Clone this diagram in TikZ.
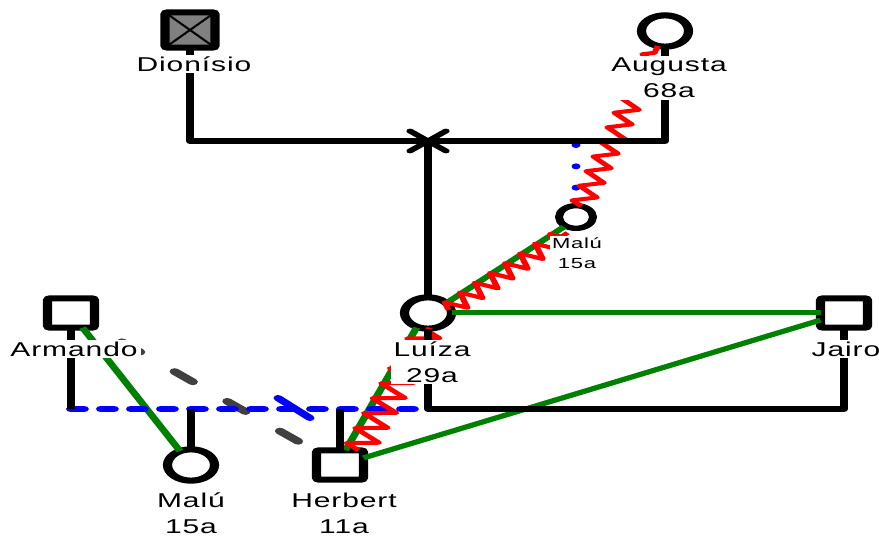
\documentclass[tikz,border=0pt]{standalone}
\usepackage{fontspec}
\setmainfont{Liberation Sans}[LetterSpace=3]
\usetikzlibrary{decorations.pathmorphing,calc}
\definecolor{closegreen}{HTML}{008000}
\definecolor{conflictred}{HTML}{FF0000}
\definecolor{relblue}{HTML}{0000FF}
\definecolor{distgray}{HTML}{404040}
\definecolor{deadgray}{HTML}{808080}
\tikzset{
  person/.style={draw=black, fill=white, line width=4.6pt, inner sep=0pt, outer sep=0pt},
  female/.style={person, circle, minimum size=23.5pt},
  smallfemale/.style={person, circle, minimum size=17pt, line width=4pt},
  male/.style={person, rectangle, rounded corners=1.5pt, minimum width=23.5pt, minimum height=22pt},
  lbl/.style={fill=white, inner sep=1.5pt, align=center, font=\fontsize{15}{19.5}\selectfont},
  slbl/.style={fill=white, inner sep=1pt, align=center, font=\fontsize{11}{15}\selectfont},
  famline/.style={draw=black, line width=4.2pt, line join=round},
  xmark/.style={draw=black, line width=3.6pt, line cap=round},
  closeline/.style={draw=closegreen, line width=3.75pt},
  conflictline/.style={draw=conflictred, line width=3pt, line join=round, decorate,
     decoration={zigzag, segment length=11pt, amplitude=5.5pt}},
  bluedash/.style={draw=relblue, line width=5pt, line cap=round, dash pattern=on 6.45pt off 8.55pt},
  sepmark/.style={draw=relblue, line width=4.5pt, line cap=round},
  fosterline/.style={draw=relblue, line width=4.5pt, line cap=round, dash pattern=on 0pt off 16pt},
  distline/.style={draw=distgray, line width=5pt, line cap=round, dash pattern=on 12pt off 22.5pt, dash phase=16.5pt}
}
\begin{document}
\begin{tikzpicture}[x=0.75pt,y=-0.75pt]
\fill[white] (0,0) rectangle (879,538);
\useasboundingbox (0,0) rectangle (879,538);
\begin{scope}[x=0.5pt, transform canvas={xscale=1.5}]
% persons
\node[male, fill=deadgray, minimum width=25pt, minimum height=26.5pt,
  path picture={\draw[line width=1.3pt] (path picture bounding box.north west) -- (path picture bounding box.south east)
     (path picture bounding box.north east) -- (path picture bounding box.south west);}] (D) at (190,30) {};
\node[female] (A) at (665,31) {};
\node[female] (L) at (428,313) {};
\node[male] (J) at (844,313) {};
\node[male] (Ar) at (71,313) {};
\node[female] (M) at (191,465) {};
\node[male] (H) at (340,465) {};
\node[smallfemale] (S) at (576,217) {};
% helper coordinates
\coordinate (dm) at (190,141);
\coordinate (xm) at (428,141);
\coordinate (sd) at (576,145);
\coordinate (ar1) at (71,409);
\coordinate (lj1) at (428,409);
\coordinate (mc) at (191,409);
\coordinate (hc) at (340,409);
\coordinate (sp1) at (278,398);
\coordinate (sp2) at (310,418);
% emotional relationship lines
\draw[closeline] (Ar) -- (M);
\draw[closeline] (L) -- (J);
\draw[closeline] (J) -- (H);
\draw[closeline, transform canvas={yshift=-1.5pt}] (L) -- (S);
\draw[closeline, transform canvas={xshift=-1.5pt}] (H) -- (L);
\draw[distline] (Ar) -- (H);
\draw[bluedash] (ar1) -- (lj1);
\draw[sepmark] (sp1) -- (sp2);
\draw[fosterline] (sd) -- (S);
\draw[conflictline, decoration={segment length=12pt, amplitude=7.5pt}, transform canvas={xshift=5pt}] (H) -- (L);
\draw[conflictline, decoration={segment length=10.5pt}, transform canvas={shift={(1.9pt,-5.9pt)}}] (L) -- (S);
\draw[conflictline, decoration={segment length=11.5pt}] (S) -- (A);
% family lines
\draw[famline] (D) -- (dm) -| (A);
\draw[famline] (xm) -- (L);
\draw[famline] (L) -- (lj1) -| (J);
\draw[famline] (Ar) -- (ar1);
\draw[famline] (mc) -- (M);
\draw[famline] (hc) -- (H);
\draw[xmark] ($(xm)+(-18,-10)$) -- ($(xm)+(18,10)$)
             ($(xm)+(-18,10)$) -- ($(xm)+(18,-10)$);
% labels
\node[lbl] (Dl) at (194,64) {Dionísio};
\node[lbl] (Al) at (669,78) {Augusta\\68a};
\node[lbl] (Ll) at (432,362) {Luíza\\29a};
\node[lbl] (Jl) at (846,349) {Jairo};
\node[lbl] (Arl) at (74,349) {Armando};
\node[lbl] (Ml) at (191,513) {Malú\\15a};
\node[lbl] (Hl) at (344,513) {Herbert\\11a};
\node[slbl] (Sl) at (577,253) {Malú\\15a};
\end{scope}
\end{tikzpicture}
\end{document}
